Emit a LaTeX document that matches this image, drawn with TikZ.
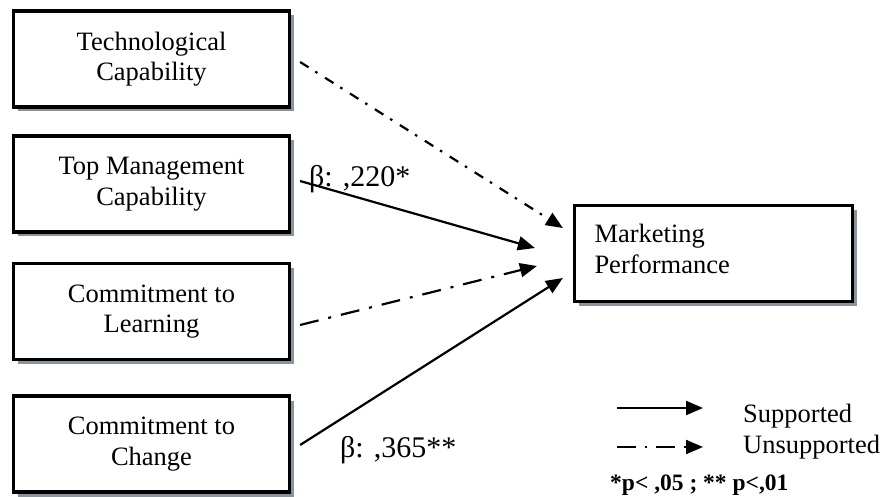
\documentclass[tikz,border=0pt]{standalone}
\usepackage{fontspec}
\setmainfont{Liberation Serif}
\usetikzlibrary{arrows.meta,shadows,calc}
\definecolor{shadowgray}{RGB}{138,148,156}
\begin{document}
\begin{tikzpicture}[x=1pt,y=-1pt,
  factor/.style={draw, line width=3.2pt, fill=white,
    minimum width=276pt, minimum height=96pt, inner sep=0pt,
    align=center,
    font=\fontsize{26.5}{30.5}\selectfont,
    drop shadow={shadow xshift=4.5pt, shadow yshift=-4.5pt,
      fill=shadowgray, opacity=1}},
  effect/.style={line width=2.2pt, -{Triangle[length=17pt,width=14pt]}},
  supported/.style={effect},
  unsupported/.style={effect, dash pattern=on 19pt off 10pt on 3pt off 10pt},
  unsupportedfine/.style={effect, dash pattern=on 10pt off 8pt on 2.5pt off 9pt},
  coef/.style={font=\fontsize{30}{34}\selectfont, inner sep=0pt, anchor=base west},
  legendtext/.style={font=\fontsize{26.5}{30}\selectfont, inner sep=0pt, anchor=base west},
  note/.style={font=\bfseries\fontsize{23.5}{27}\selectfont, inner sep=0pt, anchor=base west},
]
\useasboundingbox (0,0) rectangle (884,497);

% constructs
\node[factor] (tech)   at (151.5,59)    {Technological\\Capability};
\node[factor] (top)    at (151.5,184)   {Top Management\\Capability};
\node[factor] (learn)  at (151.5,311.5) {Commitment to\\Learning};
\node[factor] (change) at (151.5,444)   {Commitment to\\Change};
\node[factor, align=left, text width=238pt, inner xsep=20pt,
      minimum width=278pt] (mkt) at (713.5,253.5) {Marketing\\Performance\strut};

% path end points
\coordinate (s1) at ($(tech.east)+(9,3)$);
\coordinate (s2) at ($(top.east)+(9,-3)$);
\coordinate (s3) at ($(learn.east)+(9,13.5)$);
\coordinate (s4) at ($(change.east)+(9,1)$);
\coordinate (e1) at ($(mkt.west)+(-10,-25.5)$);
\coordinate (e2) at ($(mkt.west)+(-38,-5.5)$);
\coordinate (e3) at ($(mkt.west)+(-36,12.5)$);
\coordinate (e4) at ($(mkt.west)+(-10,24.5)$);

% hypothesised effects
\draw[unsupportedfine] (s1) -- (e1);
\draw[supported]       (s2) -- (e2);
\draw[unsupported]     (s3) -- (e3);
\draw[supported]       (s4) -- (e4);

% path coefficients
\node[coef] (b1) at (309,187) {β: ,220*};
\node[coef] (b2) at (340,457) {β: ,365**};

% legend
\coordinate (ls1) at (617,408);
\coordinate (le1) at (703,408);
\coordinate (ls2) at (617,447);
\coordinate (le2) at (703,447);
\draw[supported] (ls1) -- (le1);
\draw[effect, dash pattern=on 19pt off 9pt on 2pt off 9pt] (ls2) -- (le2);
\node[legendtext] (lsup)   at (743,422) {Supported};
\node[legendtext] (lunsup) at (743,453) {Unsupported};
\node[note] (sig)    at (610,490) {*p< ,05 ; ** p<,01};
\end{tikzpicture}
\end{document}
